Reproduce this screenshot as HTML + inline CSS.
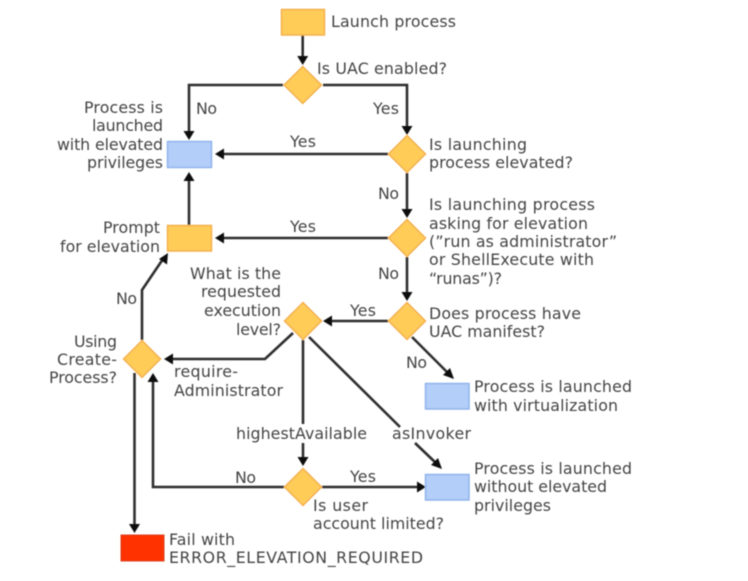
<!DOCTYPE html>
<html>
<head>
<meta charset="utf-8">
<style>
html,body{margin:0;padding:0;background:#fff;width:748px;height:581px;overflow:hidden}
svg{display:block;position:absolute;left:0;top:0}
text{font-family:"DejaVu Sans","Liberation Sans",sans-serif;font-size:15.8px;fill:#444}
.o{fill:#FFCC58;stroke:#F4B050;stroke-width:1.5}
.b{fill:#B3CEF8;stroke:#8FB2EC;stroke-width:1.5}
.l{fill:none;stroke:#2e2e2e;stroke-width:2.6}
.a{fill:#111;stroke:none}
</style>
</head>
<body>
<svg width="748" height="581" viewBox="0 0 748 581" xmlns="http://www.w3.org/2000/svg">
<defs><filter id="f" x="-2%" y="-2%" width="104%" height="104%"><feGaussianBlur stdDeviation="0.55"/></filter></defs>
<g filter="url(#f)">
<!-- connectors -->
<path class="l" d="M302.7 35V58"/>
<path class="l" d="M283 85H189V133"/>
<path class="l" d="M323 85H407V128"/>
<path class="l" d="M388 154H220"/>
<path class="l" d="M407 173V211"/>
<path class="l" d="M388 238H220"/>
<path class="l" d="M407 257V294"/>
<path class="l" d="M388 321H330"/>
<path class="l" d="M412 337L449 374"/>
<path class="l" d="M189 225V180"/>
<path class="l" d="M142 340V290L163 259"/>
<path class="l" d="M293 333L265 359H171"/>
<path class="l" d="M303 340V424"/>
<path class="l" d="M303 443V459"/>
<path class="l" d="M309 337L400 427"/>
<path class="l" d="M415 443L437 464"/>
<path class="l" d="M284 487H153V380"/>
<path class="l" d="M322 487H418"/>
<path class="l" d="M134.500 373V526"/>
<!-- arrowheads -->
<path class="a" d="M302.700 65l-5.500-9h11z"/>
<path class="a" d="M189 140l-5.500-9h11z"/>
<path class="a" d="M407 135l-5.500-9h11z"/>
<path class="a" d="M215 154l9-5.500v11z"/>
<path class="a" d="M407 218l-5.500-9h11z"/>
<path class="a" d="M215 238l9-5.500v11z"/>
<path class="a" d="M407 301l-5.500-9h11z"/>
<path class="a" d="M323 321l9-5.500v11z"/>
<path class="a" d="M454 379l-11-4 7-7z"/>
<path class="a" d="M189 172l-5.500 9h11z"/>
<path class="a" d="M168 253l-1 11.500-8-5.500z"/>
<path class="a" d="M164 359l9-5.500v11z"/>
<path class="a" d="M303 466l-5.500-9h11z"/>
<path class="a" d="M442 469l-11-4 7-7z"/>
<path class="a" d="M153 373l-5.500 9h11z"/>
<path class="a" d="M426 487l-9-5.500v11z"/>
<path class="a" d="M134.500 533l-5.500-9h11z"/>
<!-- shapes -->
<rect class="o" x="281.500" y="9.500" width="43" height="25.500"/>
<rect class="b" x="167.500" y="141.500" width="44" height="26"/>
<rect class="o" x="167.500" y="225.500" width="44" height="25.500"/>
<rect class="b" x="425.500" y="383.500" width="43.500" height="25.500"/>
<rect class="b" x="425.500" y="474.500" width="43.500" height="25.500"/>
<rect x="121" y="535" width="43" height="26" fill="#FF3300" stroke="#D8431F" stroke-width="1"/>
<path class="o" d="M302.700 66.500L321.500 85 302.700 103.500 284 85z"/>
<path class="o" d="M407 135.500L425.500 154 407 172.500 388.500 154z"/>
<path class="o" d="M407 219.500L425.500 238 407 256.500 388.500 238z"/>
<path class="o" d="M407 302.500L425.500 321 407 339.500 388.500 321z"/>
<path class="o" d="M303 302.500L321.500 321 303 339.500 284.500 321z"/>
<path class="o" d="M142 340.500L160.500 359 142 377.500 123.500 359z"/>
<path class="o" d="M303 468.500L321.500 487 303 505.500 284.500 487z"/>
<!-- labels -->
<text x="331" y="27" textLength="125">Launch process</text>
<text x="317" y="74" textLength="130">Is UAC enabled?</text>
<text x="196" y="114" textLength="21">No</text>
<text x="373" y="114" textLength="26">Yes</text>
<text x="84" y="113" textLength="79">Process is</text>
<text x="92" y="131" textLength="71">launched</text>
<text x="57" y="150" textLength="106">with elevated</text>
<text x="87" y="168" textLength="76">privileges</text>
<text x="290" y="147" textLength="26">Yes</text>
<text x="378" y="199" textLength="21">No</text>
<text x="290" y="232" textLength="26">Yes</text>
<text x="103" y="233" textLength="57">Prompt</text>
<text x="60" y="252" textLength="100">for elevation</text>
<text x="190" y="279" textLength="91">What is the</text>
<text x="201" y="297" textLength="80">requested</text>
<text x="204" y="316" textLength="77">execution</text>
<text x="236" y="335" textLength="45">level?</text>
<text x="378" y="279" textLength="21">No</text>
<text x="429" y="150" textLength="98">Is launching</text>
<text x="429" y="168" textLength="144">process elevated?</text>
<text x="429" y="210" textLength="166">Is launching process</text>
<text x="429" y="229" textLength="159">asking for elevation</text>
<text x="429" y="247" textLength="188">(”run as administrator”</text>
<text x="429" y="265" textLength="165">or ShellExecute with</text>
<text x="429" y="284" textLength="73">“runas”)?</text>
<text x="429" y="319" textLength="152">Does process have</text>
<text x="429" y="337" textLength="116">UAC manifest?</text>
<text x="350" y="316" textLength="26">Yes</text>
<text x="406" y="368" textLength="21">No</text>
<text x="474" y="392" textLength="158">Process is launched</text>
<text x="474" y="411" textLength="144">with virtualization</text>
<text x="392" y="439" textLength="79">asInvoker</text>
<text x="236" y="439" textLength="131">highestAvailable</text>
<text x="474" y="474" textLength="158">Process is launched</text>
<text x="474" y="492" textLength="133">without elevated</text>
<text x="474" y="511" textLength="77">privileges</text>
<text x="350" y="482" textLength="26">Yes</text>
<text x="235" y="483" textLength="21">No</text>
<text x="313" y="511" textLength="55">Is user</text>
<text x="313" y="529" textLength="131">account limited?</text>
<text x="169" y="545" textLength="66">Fail with</text>
<text x="169" y="563" textLength="254">ERROR_ELEVATION_REQUIRED</text>
<text x="74" y="347" textLength="43">Using</text>
<text x="57" y="365" textLength="60">Create-</text>
<text x="49" y="383" textLength="68">Process?</text>
<text x="174" y="377" textLength="64">require-</text>
<text x="174" y="396" textLength="109">Administrator</text>
<text x="116" y="304" textLength="21">No</text>
</g>
</svg>
</body>
</html>
